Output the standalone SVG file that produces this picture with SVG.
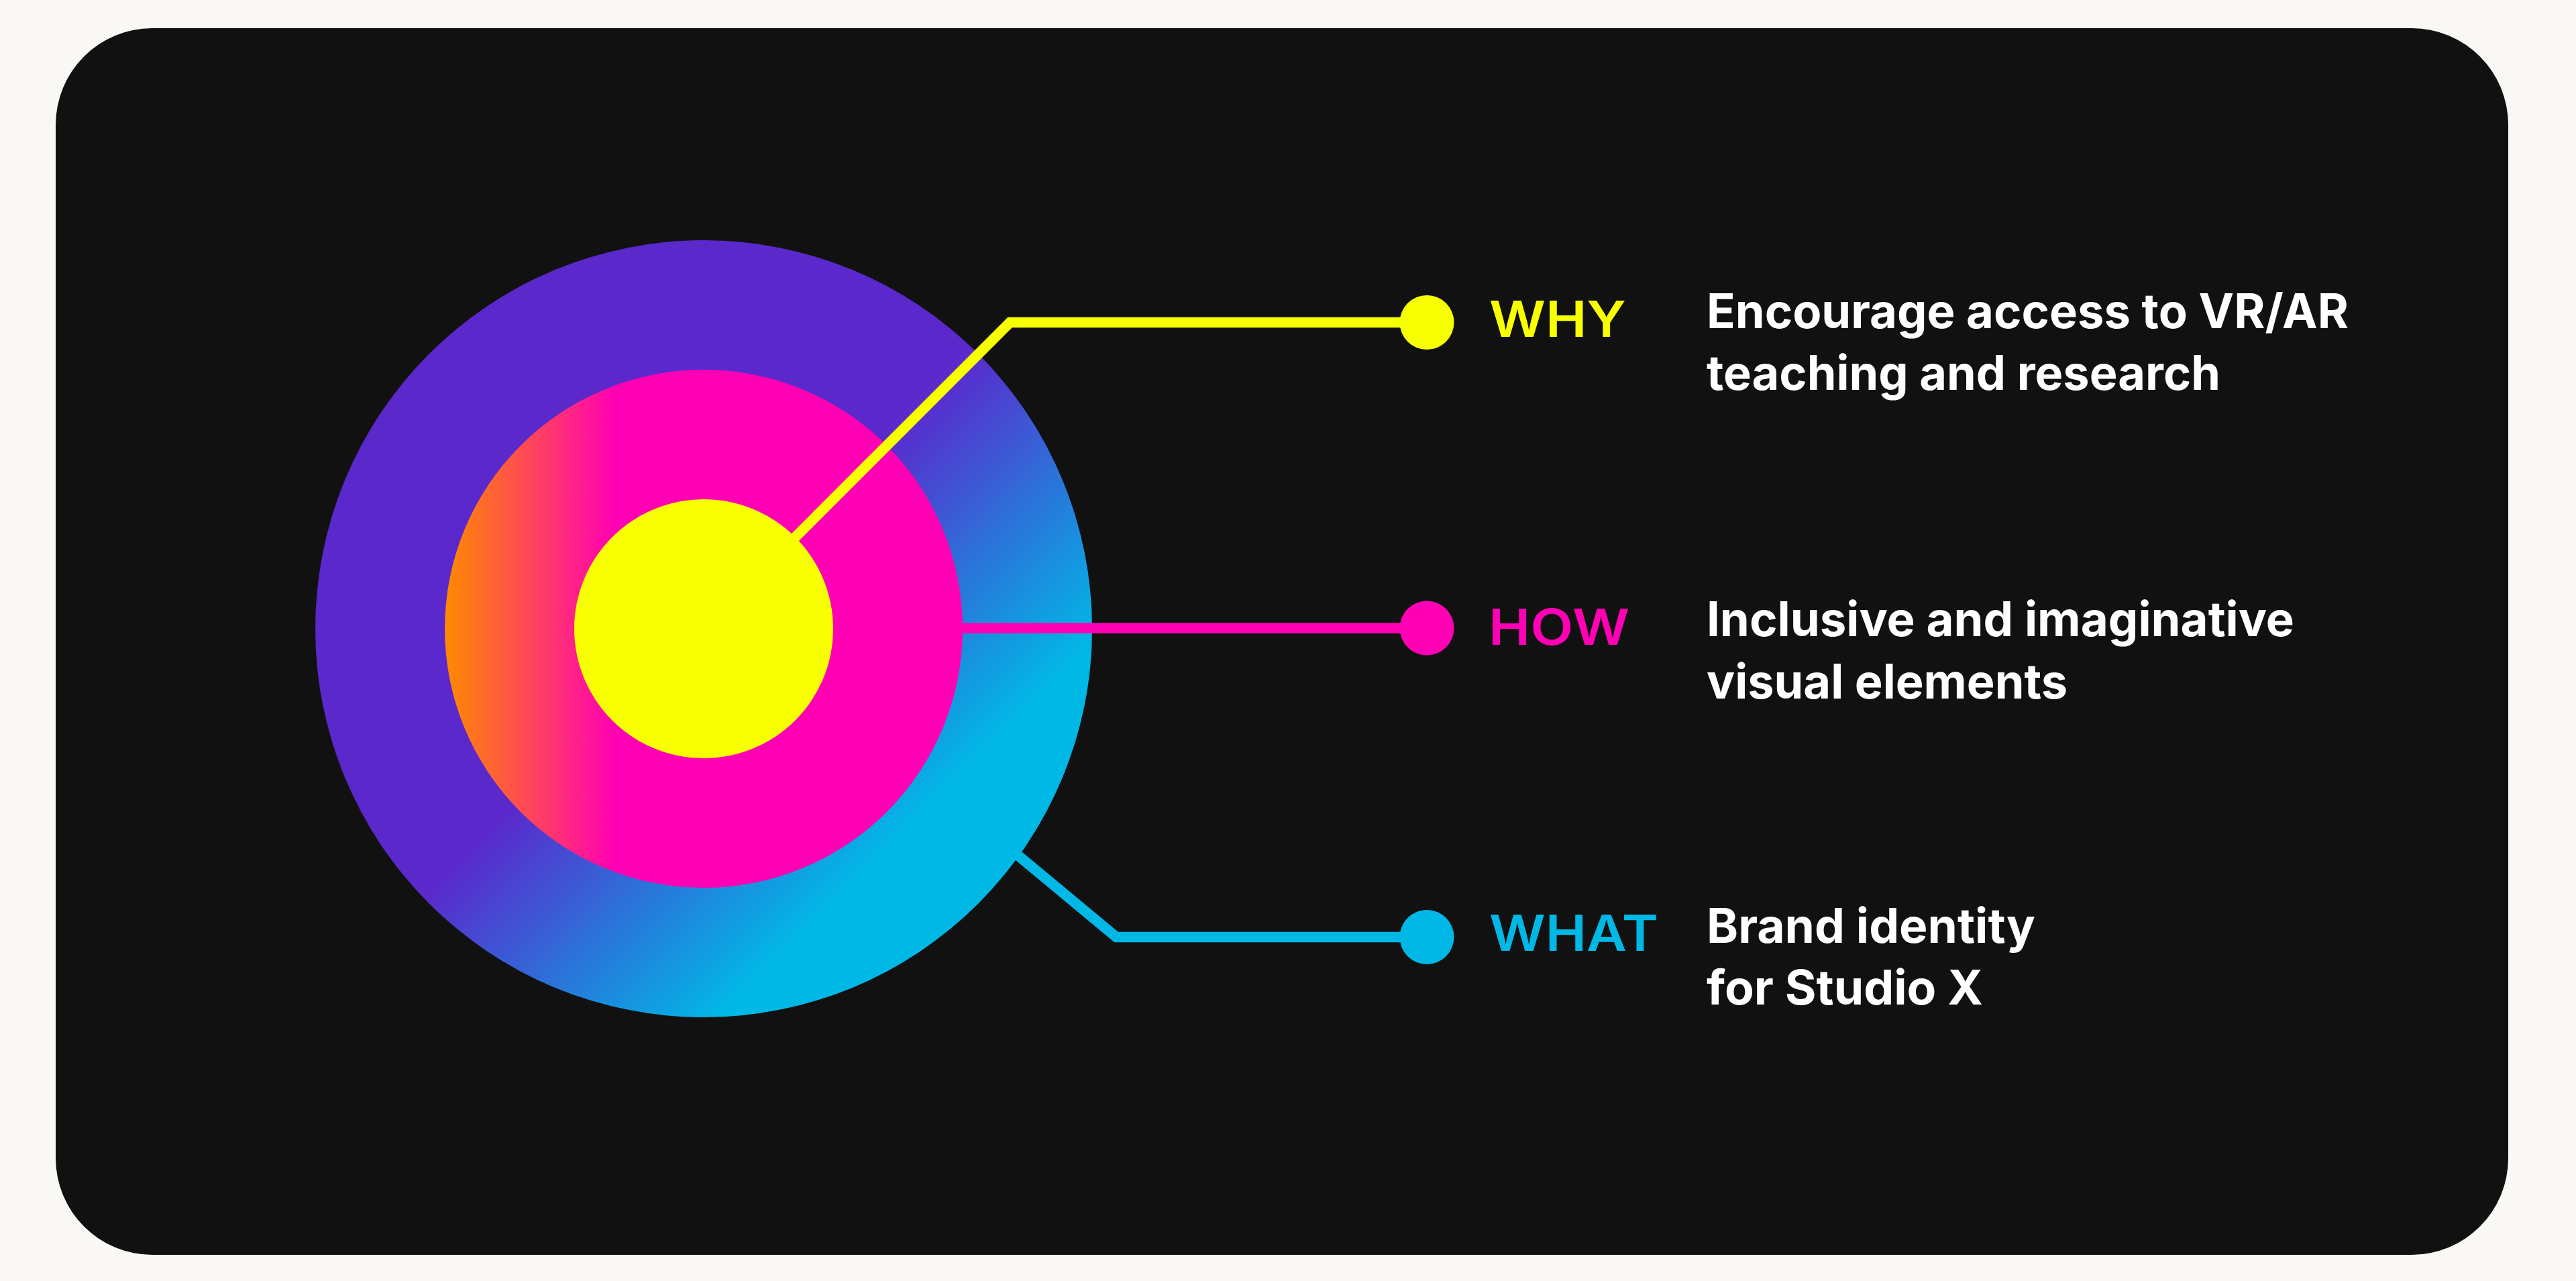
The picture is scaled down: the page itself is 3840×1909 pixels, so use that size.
<svg xmlns="http://www.w3.org/2000/svg" width="3840" height="1909" viewBox="0 0 3840 1909">
  <defs>
    <linearGradient id="gOuter" x1="0" y1="0" x2="1" y2="1">
      <stop offset="0" stop-color="#5b28cc"/>
      <stop offset="0.49" stop-color="#5b28cc"/>
      <stop offset="0.76" stop-color="#00b8e6"/>
      <stop offset="1" stop-color="#00b8e6"/>
    </linearGradient>
    <linearGradient id="gMid" x1="0" y1="0" x2="1" y2="0">
      <stop offset="0" stop-color="#ff8a00"/>
      <stop offset="0.33" stop-color="#ff00b4"/>
      <stop offset="1" stop-color="#ff00b4"/>
    </linearGradient>
  </defs>
  <style>
    .conn { fill: none; stroke-width: 15.5; stroke-linejoin: miter; stroke-linecap: butt; }
    .lbl { font-family: Inter, "Liberation Sans", sans-serif; font-weight: 600; font-size: 74px; }
    .desc { font-family: Inter, "Liberation Sans", sans-serif; font-weight: 700; font-size: 71px; fill: #ffffff; }
    .y { fill: #f8ff00; }
    .m { fill: #ff00b4; }
    .c { fill: #00b8e6; }
  </style>

  <rect x="0" y="0" width="3840" height="1909" fill="#f9f8f4"/>
  <rect x="83" y="42" width="3656" height="1828" rx="144" ry="144" fill="#111111"/>

  <g id="target">
    <circle cx="1049" cy="937" r="579" fill="url(#gOuter)"/>
    <circle cx="1049" cy="937" r="386" fill="url(#gMid)"/>
    <circle cx="1049" cy="937" r="193" fill="#f8ff00"/>
  </g>

  <g id="connectors">
    <polyline class="conn" stroke="#f8ff00" points="1049,937 1505.5,480.5 2127,480.5"/>
    <polyline class="conn" stroke="#ff00b4" points="1420,936 2127,936"/>
    <polyline class="conn" stroke="#00b8e6" points="1510,1268.5 1664,1396.5 2127,1396.5"/>
  </g>

  <g id="why">
    <circle class="y" cx="2127" cy="480.5" r="40.5"/>
    <text class="lbl y" x="2220" y="501.7" textLength="204" lengthAdjust="spacingAndGlyphs">WHY</text>
    <text class="desc" x="2544" y="489" textLength="957" lengthAdjust="spacingAndGlyphs">Encourage access to VR/AR</text>
    <text class="desc" x="2544" y="581" textLength="766" lengthAdjust="spacingAndGlyphs">teaching and research</text>
  </g>

  <g id="how">
    <circle class="m" cx="2127" cy="936" r="40.5"/>
    <text class="lbl m" x="2219" y="960.7" textLength="210" lengthAdjust="spacingAndGlyphs">HOW</text>
    <text class="desc" x="2544" y="948" textLength="876" lengthAdjust="spacingAndGlyphs">Inclusive and imaginative</text>
    <text class="desc" x="2544" y="1040.5" textLength="538" lengthAdjust="spacingAndGlyphs">visual elements</text>
  </g>

  <g id="what">
    <circle class="c" cx="2127" cy="1396.5" r="40.5"/>
    <text class="lbl c" x="2220" y="1417.3" textLength="252" lengthAdjust="spacingAndGlyphs">WHAT</text>
    <text class="desc" x="2544" y="1405" textLength="490" lengthAdjust="spacingAndGlyphs">Brand identity</text>
    <text class="desc" x="2544" y="1497" textLength="412" lengthAdjust="spacingAndGlyphs">for Studio X</text>
  </g>
</svg>
